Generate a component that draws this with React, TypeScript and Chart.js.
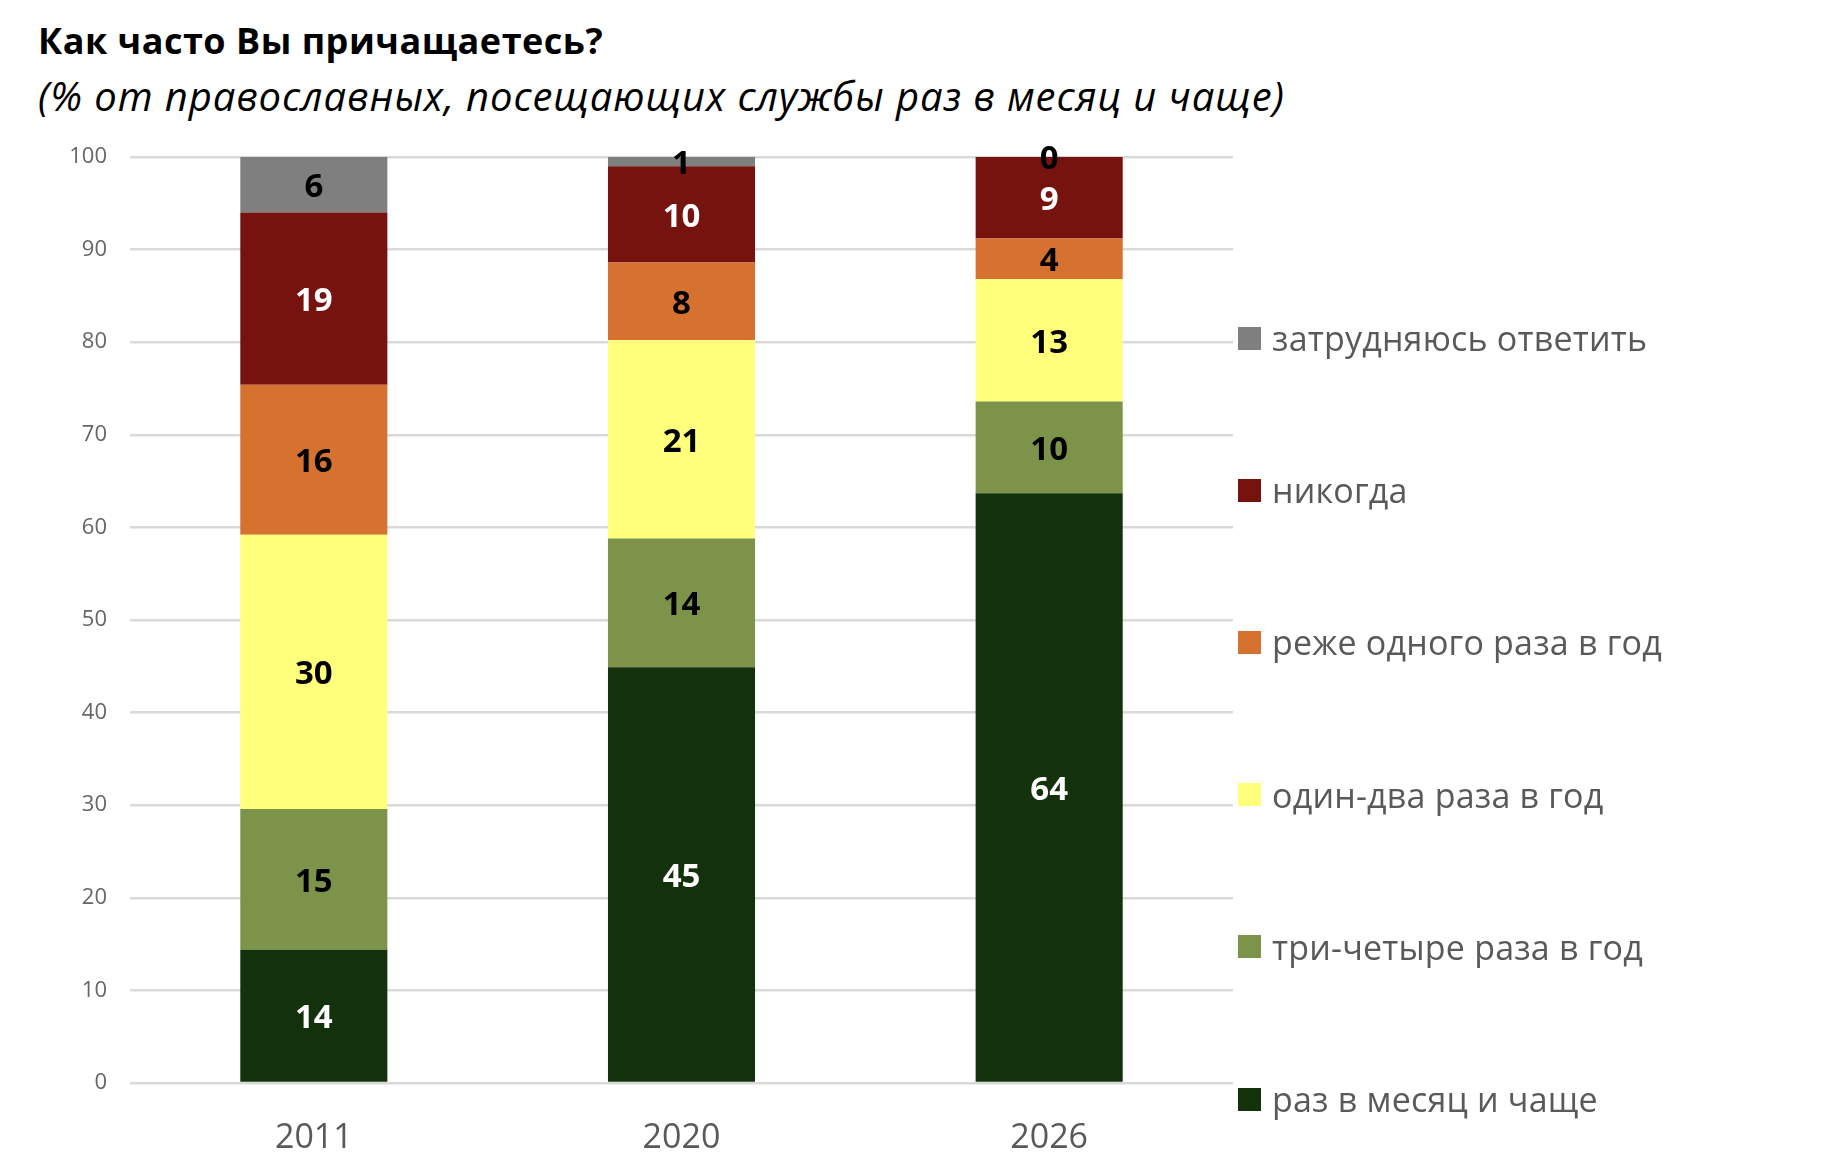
import { useEffect, useRef } from "react";
import { Chart, registerables, Plugin } from "chart.js";

Chart.register(...registerables);

const years = ["2011", "2020", "2026"];

// bottom to top, as stacked
const seriesNames = [
   "раз в месяц и чаще",
   "три-четыре раза в год",
   "один-два раза в год",
   "реже одного раза в год",
   "никогда",
   "затрудняюсь ответить",
];
const seriesColors = ["#13310b", "#7d9349", "#ffff7b", "#d5722f", "#77130e", "#7f7f7f"];
const labelColors = ["#ffffff", "#000000", "#000000", "#000000", "#ffffff", "#000000"];

const monthly = [14.4, 44.9, 63.7];
const threeFour = [15.2, 13.9, 9.9];
const oneTwo = [29.6, 21.4, 13.2];
const rarer = [16.2, 8.4, 4.4];
const never = [18.6, 10.4, 8.8];
const hardToSay = [6.0, 1.0, 0];

const seriesValues = [monthly, threeFour, oneTwo, rarer, never, hardToSay];

const yTicks = [0, 10, 20, 30, 40, 50, 60, 70, 80, 90, 100];

const segmentLabels: Plugin<"bar"> = {
   id: "segmentLabels",
   afterDatasetsDraw(chart) {
      const { ctx } = chart;
      ctx.save();
      ctx.font = "bold 33px 'Open Sans'";
      ctx.textAlign = "center";
      ctx.textBaseline = "middle";
      chart.data.datasets.forEach((ds, i) => {
         const meta = chart.getDatasetMeta(i);
         meta.data.forEach((bar: any, j) => {
            const v = ds.data[j] as number;
            const cy = (bar.y + bar.base) / 2;
            ctx.fillStyle = labelColors[i];
            ctx.fillText(String(Math.round(v)), bar.x, cy + 3);
         });
      });
      ctx.restore();
   },
};

export default function App() {
   const canvasRef = useRef<HTMLCanvasElement | null>(null);
   const chartRef = useRef<Chart | null>(null);

   useEffect(() => {
      document.body.style.margin = "0";
      if (!canvasRef.current) return;
      chartRef.current?.destroy();

      chartRef.current = new Chart(canvasRef.current, {
         type: "bar",
         data: {
            labels: years,
            datasets: seriesNames.map((name, i) => ({
               label: name,
               data: seriesValues[i],
               backgroundColor: seriesColors[i],
               borderWidth: 0,
               barPercentage: 0.5,
               categoryPercentage: 0.8,
            })),
         },
         options: {
            animation: false,
            responsive: false,
            devicePixelRatio: 1,
            layout: { padding: { left: 0, top: 157, right: 601, bottom: 17 } },
            plugins: {
               legend: { display: false },
               tooltip: { enabled: false },
            },
            scales: {
               x: {
                  stacked: true,
                  grid: { display: false },
                  border: { display: false },
                  ticks: {
                     color: "#595959",
                     font: { family: "'Open Sans'", size: 34 },
                     padding: 27,
                  },
                  afterFit: (scale) => {
                     scale.height = 70;
                  },
               },
               y: {
                  stacked: true,
                  min: 0,
                  max: 100,
                  afterBuildTicks: (scale) => {
                     scale.ticks = yTicks.map((value) => ({ value }));
                  },
                  grid: { color: "#d9d9d9", lineWidth: 2.5, drawTicks: false },
                  border: { display: false },
                  ticks: {
                     color: "#666666",
                     font: { family: "'Open Sans'", size: 22 },
                     padding: 23,
                  },
                  afterFit: (scale) => {
                     scale.width = 130;
                  },
               },
            },
         },
         plugins: [segmentLabels],
      });

      return () => {
         chartRef.current?.destroy();
      };
   }, []);

   const legendOrder = seriesNames.map((_, i) => i).reverse();

   return (
      <div style={{ position: "relative", width: 1834, height: 1170, background: "#fff", overflow: "hidden" }}>
         <div
            style={{
               position: "absolute",
               left: 38,
               top: 17,
               fontFamily: "'Open Sans'",
               fontWeight: 700,
               fontSize: 36,
               lineHeight: "48px",
               color: "#000",
               whiteSpace: "nowrap",
               letterSpacing: 0.5,
            }}
         >
            Как часто Вы причащаетесь?
         </div>
         <div
            style={{
               position: "absolute",
               left: 38,
               top: 69,
               fontFamily: "'Open Sans'",
               fontStyle: "italic",
               fontSize: 40,
               lineHeight: "54px",
               color: "#000",
               whiteSpace: "nowrap",
               letterSpacing: 0.9,
            }}
         >
            (% от православных, посещающих службы раз в месяц и чаще)
         </div>
         <canvas ref={canvasRef} width={1834} height={1170} style={{ position: "absolute", left: 0, top: 0 }} />
         <div style={{ position: "absolute", left: 1238, top: 262 }}>
            {legendOrder.map((i) => (
               <div key={i} style={{ height: 152.2, display: "flex", alignItems: "center" }}>
                  <span style={{ width: 23, height: 23, background: seriesColors[i], marginRight: 11 }} />
                  <span
                     style={{
                        fontFamily: "'Open Sans'",
                        fontSize: 34,
                        color: "#595959",
                        whiteSpace: "nowrap",
                        lineHeight: "40px",
                        letterSpacing: 0.2,
                     }}
                  >
                     {seriesNames[i]}
                  </span>
               </div>
            ))}
         </div>
      </div>
   );
}
